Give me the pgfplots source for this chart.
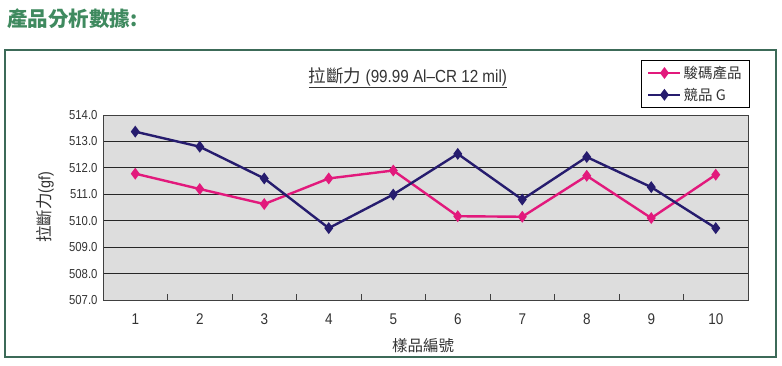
\documentclass[border=0pt]{standalone}
\usepackage{fontspec}
\usepackage{pgfplots}
\pgfplotsset{compat=1.18}
\setmainfont{Liberation Sans}
\newfontfamily\narrowfont{Liberation Sans}[FakeStretch=0.87]
\newfontfamily\cjk{Noto Sans CJK TC}
\definecolor{framegreen}{HTML}{3C6A58}
\definecolor{headgreen}{HTML}{3F8A5F}
\definecolor{pinkc}{HTML}{E2197C}
\definecolor{navyc}{HTML}{261C6E}
\definecolor{plotbg}{HTML}{DDDDDD}
\definecolor{txtgray}{HTML}{333333}
\begin{document}
\begin{tikzpicture}
\path[use as bounding box] (0,0) rectangle (782pt,365pt);
\fill[white] (0,0) rectangle (782pt,365pt);
\draw[framegreen, line width=1.8pt] (5pt,8pt) rectangle (776pt,315pt);
\node[anchor=west, text=headgreen, inner sep=0pt, font=\cjk\bfseries\fontsize{20.5}{21}\selectfont] at (7pt,346pt) {產品分析數據:};
\begin{axis}[
  at={(103pt,65pt)}, anchor=south west,
  width=645pt, height=185pt, scale only axis,
  xmin=0.5, xmax=10.5, ymin=507, ymax=514,
  axis background/.style={fill=plotbg},
  axis line style={draw=black!75, line width=0.9pt},
  xtick={1,...,10},
  minor xtick={1.5,2.5,...,9.5},
  major x tick style={draw=none},
  minor x tick style={draw=black!75, line width=0.9pt},
  minor tick length=6pt,
  tick align=inside,
  xtick pos=bottom,
  ytick={507,...,514},
  ytick pos=left,
  major y tick style={draw=none},
  ymajorgrids,
  grid style={draw=black!85, line width=0.9pt},
  /pgf/number format/assume math mode=true,
  yticklabel style={/pgf/number format/fixed, /pgf/number format/fixed zerofill, /pgf/number format/precision=1, xshift=-2pt, font=\narrowfont\fontsize{13}{14}\selectfont},
  xticklabel style={yshift=-10pt, font=\narrowfont\fontsize{15.5}{16}\selectfont},
  tick label style={text=txtgray},
  legend style={at={(rel axis cs:1,1)}, anchor=south east, xshift=2pt, yshift=7pt,
    draw=black, line width=0.7pt, font=\cjk\fontsize{14.5}{16}\selectfont, text=txtgray,
    inner xsep=6pt, inner ysep=4pt, row sep=4pt, cells={anchor=west}},
  legend image code/.code={\draw[mark repeat=2,mark phase=2,#1] plot coordinates {(0pt,0pt) (16pt,0pt) (32pt,0pt)};},
]
\addplot[pinkc, line width=2.4pt, mark=diamond*, mark size=4pt, mark options={solid, fill=pinkc}] coordinates {
(1,511.78) (2,511.2) (3,510.63) (4,511.6) (5,511.9) (6,510.17) (7,510.15) (8,511.7) (9,510.1) (10,511.74)};
\addlegendentry{駿碼產品}
\addplot[navyc, line width=2.4pt, mark=diamond*, mark size=4pt, mark options={solid, fill=navyc}] coordinates {
(1,513.37) (2,512.8) (3,511.6) (4,509.72) (5,510.99) (6,512.53) (7,510.8) (8,512.41) (9,511.27) (10,509.72)};
\addlegendentry{競品 G}
\end{axis}
\node[text=txtgray, font=\narrowfont\fontsize{17.5}{17.5}\selectfont] at (408pt,287pt) {\underline{{\cjk 拉斷力} (99.99 Al–CR 12 mil)}};
\node[text=txtgray, rotate=90, font=\narrowfont\fontsize{16.5}{16.5}\selectfont] at (45pt,158pt) {{\cjk 拉斷力}(gf)};
\node[text=txtgray, font=\cjk\fontsize{15.5}{15.5}\selectfont] at (423pt,19pt) {樣品編號};
\end{tikzpicture}
\end{document}
